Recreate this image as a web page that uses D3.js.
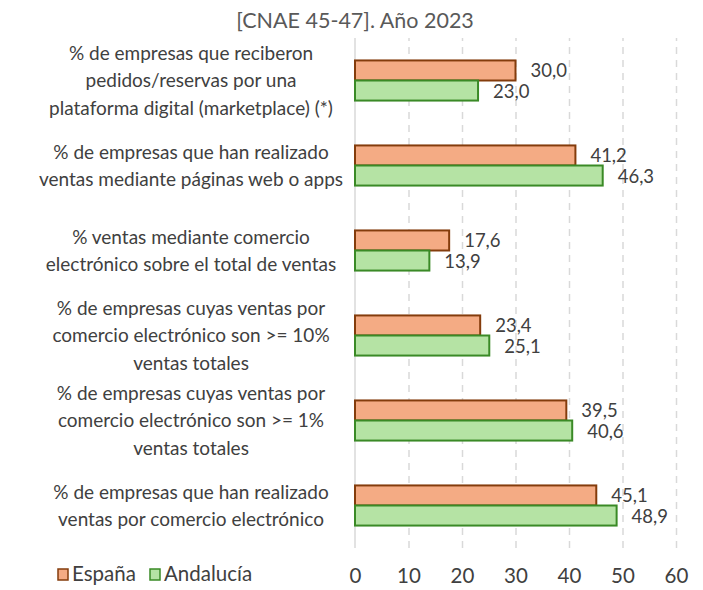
<html>

<head>
    <script src="https://d3js.org/d3.v7.min.js"></script>
    <style>
        body { margin: 0; background: #fff; }
        text { font-family: Lato, "Open Sans", sans-serif; }
        .gridlines line { stroke: #d9d9d9; stroke-width: 1.5; stroke-dasharray: 7,6; }
        .gridlines .domain { stroke: none; }
        .x.axis .domain, .x.axis line { stroke: none; }
        .x.axis text { fill: #404040; font-size: 20.5px; }
    </style>
</head>

<body>
    <svg height="590" width="703"></svg>

    <script>
        const categories = [
            ["% de empresas que reciberon", "pedidos/reservas por una", "plataforma digital (marketplace) (*)"],
            ["% de empresas que han realizado", "ventas mediante páginas web o apps"],
            ["% ventas mediante comercio", "electrónico sobre el total de ventas"],
            ["% de empresas cuyas ventas por", "comercio electrónico son >= 10%", "ventas totales"],
            ["% de empresas cuyas ventas por", "comercio electrónico son >= 1%", "ventas totales"],
            ["%  de empresas que han realizado", "ventas por comercio electrónico"]
        ];
        const seriesNames = ["España", "Andalucía"];
        const espana = [30.0, 41.2, 17.6, 23.4, 39.5, 45.1];
        const andalucia = [23.0, 46.3, 13.9, 25.1, 40.6, 48.9];
        const xTicks = [0, 10, 20, 30, 40, 50, 60];

        const fills = ["#f4ab84", "#b5e3a4"];
        const strokes = ["#843c0c", "#3a8a26"];

        const svg = d3.select("svg");
        const margins = { top: 38, left: 355, right: 27, bottom: 42 };
        const chartWidth = 703 - margins.left - margins.right;
        const chartHeight = 590 - margins.top - margins.bottom;

        const data = categories.map((c, i) => ({ lines: c, values: [espana[i], andalucia[i]] }));

        const xScale = d3.scaleLinear().domain([0, 60]).range([0, chartWidth]);
        const yScale = d3.scaleBand().domain(d3.range(categories.length))
                                     .range([0, chartHeight])
                                     .paddingInner(0.528).paddingOuter(0.264);
        const ySub = d3.scaleBand().domain([0, 1]).range([0, yScale.bandwidth()]);

        // subtitle
        svg.append("text")
            .attr("x", 355).attr("y", 28)
            .attr("text-anchor", "middle")
            .attr("fill", "#595959")
            .attr("font-size", "21.5px")
            .text("[CNAE 45-47]. Año 2023");

        let chartArea = svg.append("g")
            .attr("transform", `translate(${margins.left},${margins.top})`);

        let gridLines = d3.axisBottom(xScale).tickValues(xTicks.slice(1)).tickFormat("").tickSize(-chartHeight);
        chartArea.append("g")
            .attr("class", "gridlines")
            .attr("transform", `translate(0,${chartHeight})`)
            .call(gridLines);

        chartArea.append("line")
            .attr("x1", xScale(0)).attr("x2", xScale(0))
            .attr("y1", 0).attr("y2", chartHeight)
            .attr("stroke", "#d9d9d9").attr("stroke-width", 1.5);

        let bottomAxis = d3.axisBottom(xScale).tickValues(xTicks).tickSize(0).tickPadding(0);
        chartArea.append("g")
            .attr("class", "x axis")
            .attr("transform", `translate(0,${chartHeight + 20})`)
            .call(bottomAxis);

        const groups = chartArea.selectAll(".grp").data(data).enter().append("g")
            .attr("transform", (d, i) => `translate(0,${yScale(i)})`);

        groups.selectAll("rect").data(d => d.values).enter().append("rect")
            .attr("x", xScale(0))
            .attr("y", (v, j) => ySub(j))
            .attr("width", v => xScale(v) - xScale(0))
            .attr("height", ySub.bandwidth())
            .attr("fill", (v, j) => fills[j])
            .attr("stroke", (v, j) => strokes[j])
            .attr("stroke-width", 2);

        groups.selectAll(".lbl").data(d => d.values).enter().append("text")
            .attr("x", v => xScale(v) + 15)
            .attr("y", (v, j) => ySub(j) + ySub.bandwidth() / 2 + 7)
            .attr("fill", "#404040")
            .attr("font-size", "18.5px")
            .text(v => d3.format(".1f")(v).replace(".", ","));

        // category labels
        groups.each(function (d) {
            const n = d.lines.length;
            const lh = 27.5;
            const t = d3.select(this).append("text")
                .attr("text-anchor", "middle")
                .attr("fill", "#404040")
                .attr("font-size", "19px");
            d.lines.forEach((line, k) => {
                t.append("tspan")
                    .attr("x", 191 - margins.left)
                    .attr("y", yScale.bandwidth() / 2 + (k - (n - 1) / 2) * lh + 7)
                    .text(line);
            });
        });

        // legend
        const legend = svg.append("g").attr("transform", "translate(58,569)");
        const lx = [0, 92];
        seriesNames.forEach((s, i) => {
            legend.append("rect")
                .attr("x", lx[i]).attr("y", 0)
                .attr("width", 10).attr("height", 11)
                .attr("fill", fills[i]).attr("stroke", strokes[i]).attr("stroke-width", 1.5);
            legend.append("text")
                .attr("x", lx[i] + 14).attr("y", 12)
                .attr("fill", "#404040").attr("font-size", "20.5px")
                .text(s);
        });
    </script>
</body>

</html>
